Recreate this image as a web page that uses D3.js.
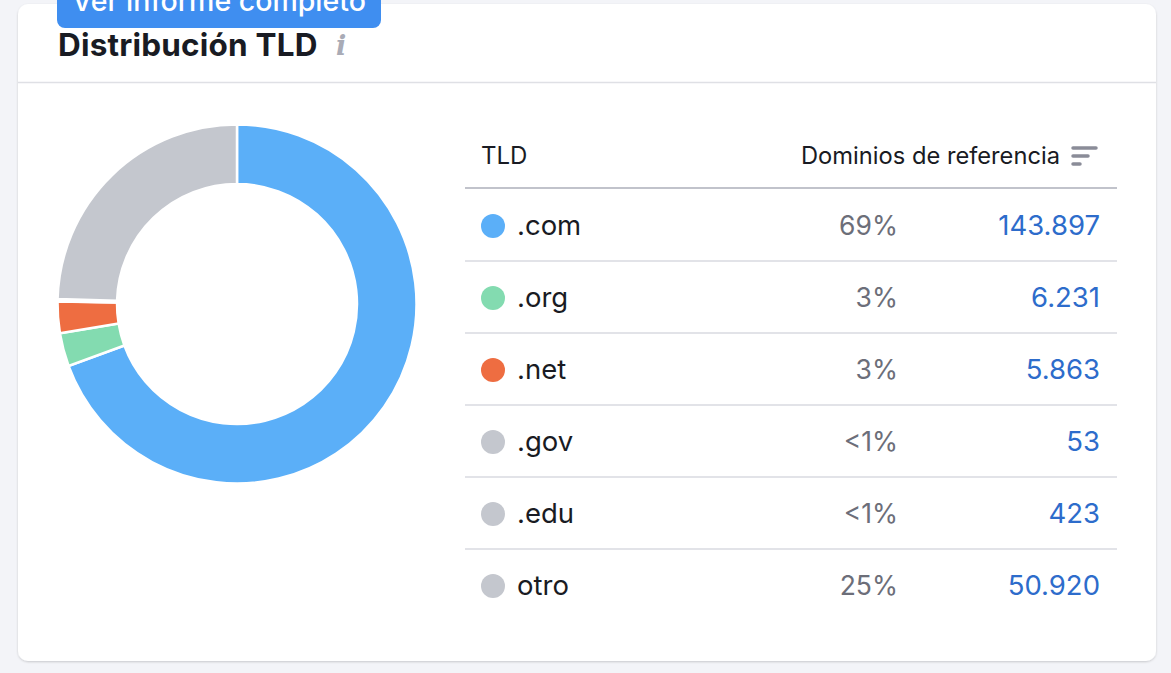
<!DOCTYPE html>
<html><head><meta charset="utf-8">
<script src="https://cdn.jsdelivr.net/npm/d3@7"></script>
<style>
html,body{margin:0;padding:0;background:#f3f4f8;}
svg{display:block;font-family:Inter, "Noto Sans", sans-serif;}
</style></head>
<body>
<svg id="c" width="1171" height="673"></svg>
<script>
const tlds = [".com", ".org", ".net", ".gov", ".edu", "otro"];
const values = [143897, 6231, 5863, 53, 423, 50920];
const percents = ["69%", "3%", "3%", "<1%", "<1%", "25%"];
const valueLabels = ["143.897", "6.231", "5.863", "53", "423", "50.920"];
const colors = ["#5baff8", "#83dbb0", "#ee6d41", "#c4c7ce", "#c4c7ce", "#c4c7ce"];
const title = "Distribución TLD";
const colHeaders = ["TLD", "Dominios de referencia"];

const svg = d3.select("#c");
const defs = svg.append("defs");
const f = defs.append("filter").attr("id","sh").attr("x","-5%").attr("y","-5%").attr("width","110%").attr("height","110%");
f.append("feDropShadow").attr("dx",0).attr("dy",1).attr("stdDeviation",1.2).attr("flood-color","#000").attr("flood-opacity",0.18);

// card
svg.append("rect").attr("x",18).attr("y",4).attr("width",1138).attr("height",657).attr("rx",10)
  .attr("fill","#fff").attr("filter","url(#sh)");
// button (cut at top)
svg.append("rect").attr("x",57).attr("y",-30).attr("width",324).attr("height",58).attr("rx",8).attr("fill","#3f8ef0");
svg.append("text").attr("x",219).attr("y",11).attr("text-anchor","middle").attr("fill","#fff")
  .attr("font-size",28.5).attr("font-weight",500).text("Ver informe completo");
// title
svg.append("text").attr("x",58).attr("y",56).attr("fill","#191b23").attr("font-size",31.5).attr("font-weight",700)
  .attr("letter-spacing","0.2").text(title);
svg.append("text").attr("x",336).attr("y",55).attr("fill","#a9abb6").attr("font-size",27).attr("font-style","italic").attr("font-weight",700)
  .attr("font-family","'DejaVu Serif', Georgia, serif").text("i");
// divider
svg.append("line").attr("x1",18).attr("x2",1156).attr("y1",82.5).attr("y2",82.5).attr("stroke","#dfe0e5").attr("stroke-width",1.5);

// donut
const pie = d3.pie().sort(null).value(d=>d);
const arc = d3.arc().innerRadius(120).outerRadius(179.5);
const g = svg.append("g").attr("transform","translate(237,304)");
g.selectAll("path").data(pie(values)).join("path")
  .attr("d",arc).attr("fill",(d,i)=>colors[i]).attr("stroke","#fff").attr("stroke-width",2.5).attr("stroke-linejoin","miter");

// table
const x0 = 465, x1 = 1117;
const y = d3.scaleBand().domain(d3.range(tlds.length)).range([189, 621]);
svg.append("text").attr("x",481).attr("y",164).attr("fill","#191b23").attr("font-size",24).text(colHeaders[0]);
svg.append("text").attr("x",1060).attr("y",164).attr("text-anchor","end").attr("fill","#191b23").attr("font-size",23.7).text(colHeaders[1]);
// sort icon
[[1073,1096,148],[1073,1088,156],[1073,1080,164]].forEach(([a,b,yy])=>{
  svg.append("line").attr("x1",a).attr("x2",b).attr("y1",yy).attr("y2",yy).attr("stroke","#8a8c98").attr("stroke-width",3.5).attr("stroke-linecap","round");
});
svg.append("line").attr("x1",x0).attr("x2",x1).attr("y1",188).attr("y2",188).attr("stroke","#c1c3cb").attr("stroke-width",2);

const rows = svg.append("g").selectAll("g").data(tlds).join("g")
  .attr("transform",(d,i)=>`translate(0,${y(i)})`);
const bh = y.bandwidth();
rows.filter((d,i)=>i<tlds.length-1).append("line").attr("x1",x0).attr("x2",x1).attr("y1",bh).attr("y2",bh)
  .attr("stroke","#e2e3e8").attr("stroke-width",2);
rows.append("circle").attr("cx",493).attr("cy",bh/2+1).attr("r",12).attr("fill",(d,i)=>colors[i]);
rows.append("text").attr("x",517).attr("y",bh/2+10).attr("fill","#191b23").attr("font-size",27.5).text(d=>d);
rows.append("text").attr("x",898).attr("y",bh/2+10).attr("text-anchor","end").attr("fill","#6c6e79").attr("font-size",26.5).text((d,i)=>percents[i]);
rows.append("text").attr("x",1100).attr("y",bh/2+10).attr("text-anchor","end").attr("fill","#2d6ccb").attr("font-size",27.5).text((d,i)=>valueLabels[i]);
</script>
</body></html>
